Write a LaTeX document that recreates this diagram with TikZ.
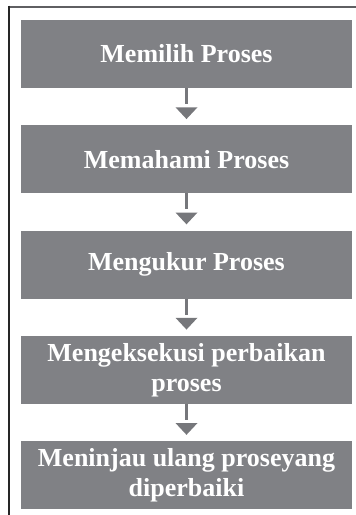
\documentclass[tikz,border=0pt]{standalone}
\usepackage{fontspec}
\setmainfont{Liberation Serif}
\usetikzlibrary{calc}
\definecolor{boxgray}{RGB}{128,129,133}
\definecolor{arrowgray}{RGB}{118,119,123}
\definecolor{framegray}{RGB}{95,95,98}
\tikzset{
  stepbox/.style={rectangle, fill=boxgray, draw=none, text=white,
    minimum width=331pt, minimum height=68pt, inner sep=0pt, align=center,
    font=\bfseries\fontsize{26}{30}\selectfont},
  stem/.style={draw=arrowgray, line width=3pt},
  tri/.style={fill=arrowgray},
}
\begin{document}
\begin{tikzpicture}[x=1pt,y=1pt]
\useasboundingbox (0,0) rectangle (356,-515);
% frame
\draw[framegray, line width=2pt] (8,-6.5) -- (356,-6.5);
\draw[black!85, line width=1.6pt] (9,-5.5) -- (9,-515);
% boxes
\node[stepbox] (b1) at (186.5,-54) {Memilih Proses};
\node[stepbox] (b2) at (186.5,-159.25) {Memahami Proses};
\node[stepbox] (b3) at (186.5,-264.5) {Mengukur Proses};
\node[stepbox] (b4) at (186.5,-369.75) {Mengeksekusi perbaikan\\proses};
\node[stepbox] (b5) at (186.5,-475) {Meninjau ulang proseyang\\diperbaiki};
% arrows
\foreach \a/\b in {b1/b2,b2/b3,b3/b4,b4/b5}{
  \draw[stem] (\a.south) -- ($(\a.south)+(0,-16)$);
  \fill[tri] ($(\b.north)+(-11,17.75)$) -- ($(\b.north)+(11,17.75)$) -- ($(\b.north)+(0,6)$) -- cycle;
}
\end{tikzpicture}
\end{document}
